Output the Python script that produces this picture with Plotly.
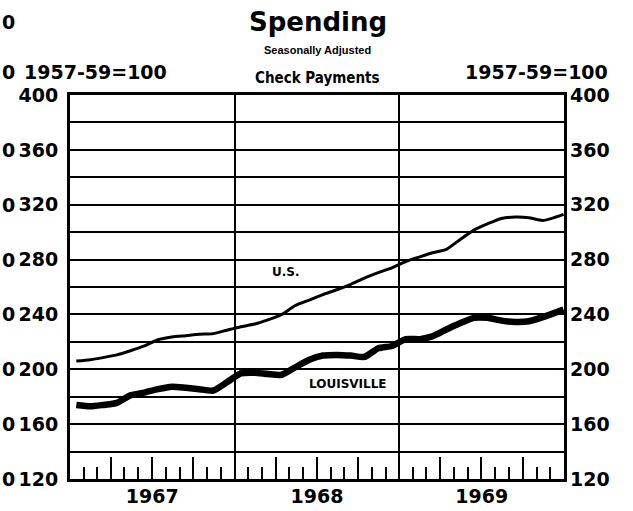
import plotly.graph_objects as go

# ---- data (monthly, seasonally adjusted, 1957-59=100) ----
months = [
    "1967-01-15", "1967-02-15", "1967-03-15", "1967-04-15", "1967-05-15", "1967-06-15",
    "1967-07-15", "1967-08-15", "1967-09-15", "1967-10-15", "1967-11-15", "1967-12-15",
    "1968-01-15", "1968-02-15", "1968-03-15", "1968-04-15", "1968-05-15", "1968-06-15",
    "1968-07-15", "1968-08-15", "1968-09-15", "1968-10-15", "1968-11-15", "1968-12-15",
    "1969-01-15", "1969-02-15", "1969-03-15", "1969-04-15", "1969-05-15", "1969-06-15",
    "1969-07-15", "1969-08-15", "1969-09-15", "1969-10-15", "1969-11-15", "1969-12-31",
]
us_values = [
    206, 207, 208.5, 210.5, 213.5, 217, 221.5, 223.5, 224.5, 225.5, 226, 228.5,
    231, 233, 236, 240, 246.5, 250.5, 254.5, 258, 262, 266.5, 270.5, 274,
    278.5, 282, 285, 287.5, 294.5, 301.5, 306, 310, 311, 310.5, 308.5, 313,
]
louisville_values = [
    174, 173, 174, 175.5, 181, 183, 185.5, 187.3, 186.5, 185.5, 184.5, 190.5,
    197, 197.5, 196.5, 196, 201.5, 207, 210, 210.5, 210, 209, 215.3, 217,
    222, 222, 224, 229, 233.5, 237.5, 237.5, 235.5, 234.5, 235, 238, 243.5,
]
y_grid_vals = [120, 140, 160, 180, 200, 220, 240, 260, 280, 300, 320, 340, 360, 380, 400]
y_grid_text = ["120", "", "160", "", "200", "", "240", "", "280", "", "320", "", "360", "", "400"]
y_right_vals = [120, 160, 200, 240, 280, 320, 360, 400]
x_range = ["1967-01-01", "1970-01-01"]
y_range = [120, 400]
stray_zero_rows = [360, 320, 280, 240, 200, 160, 120]

FONT = "DejaVu Sans"
bold = dict(family=FONT, size=19, color="black", weight="bold")

fig = go.Figure()
fig.add_trace(go.Scatter(x=months, y=us_values, mode="lines", name="U.S.",
                         line=dict(color="black", width=3, shape="spline", smoothing=0.6),
                         hoverinfo="x+y"))
fig.add_trace(go.Scatter(x=months, y=louisville_values, mode="lines", name="LOUISVILLE",
                         line=dict(color="black", width=6.5, shape="spline", smoothing=0.6),
                         hoverinfo="x+y"))
# invisible helper trace to create the secondary (year-label / right) axes
fig.add_trace(go.Scatter(x=months, y=us_values, xaxis="x2", yaxis="y2", mode="lines",
                         line=dict(color="rgba(0,0,0,0)", width=0), hoverinfo="skip",
                         showlegend=False))

fig.update_layout(
    width=633, height=511,
    margin=dict(l=70, r=69, t=95, b=32, autoexpand=False),
    plot_bgcolor="white", paper_bgcolor="white",
    showlegend=False,
    xaxis=dict(
        type="date", range=x_range, tick0="1967-01-01", dtick="M3",
        ticks="inside", ticklen=22, tickwidth=2, tickcolor="black",
        showticklabels=False, showgrid=False, zeroline=False, automargin=False,
        showline=True, linewidth=3, linecolor="black", mirror=True,
        minor=dict(tick0="1967-01-01", dtick="M1", ticks="inside", ticklen=12,
                   tickwidth=2, tickcolor="black", showgrid=False),
    ),
    xaxis2=dict(
        type="date", range=x_range, overlaying="x", side="bottom",
        tick0="1967-01-01", dtick="M12", ticklabelmode="period", tickformat="%Y",
        ticks="", showgrid=True, gridcolor="black", gridwidth=2, zeroline=False,
        tickfont=bold, ticklabelstandoff=4, automargin=False,
    ),
    yaxis=dict(
        range=y_range, tickmode="array", tickvals=y_grid_vals, ticktext=y_grid_text,
        ticks="", showgrid=True, gridcolor="black", gridwidth=2, zeroline=False,
        showline=True, linewidth=3, linecolor="black", mirror=True,
        tickfont=bold, ticklabelstandoff=5, automargin=False,
    ),
    yaxis2=dict(
        range=y_range, overlaying="y", side="right", tickmode="array",
        tickvals=y_right_vals, ticks="", showgrid=False, zeroline=False,
        tickfont=bold, ticklabelstandoff=5, automargin=False,
    ),
)

def note(text, x, y, font, xanchor="center", xref="paper", yref="paper"):
    return dict(text=text, x=x, y=y, xref=xref, yref=yref, xanchor=xanchor,
                yanchor="middle", showarrow=False, font=font)

annotations = [
    note("Spending", 0.502, 1.19, dict(family=FONT, size=26, color="black", weight="bold")),
    note("Seasonally Adjusted", 0.502, 1.117,
         dict(family="Liberation Sans", size=11, color="black", weight="bold")),
    note("Check Payments", 0.502, 1.044,
         dict(family="DejaVu Sans Condensed, Roboto Condensed, Roboto, sans-serif",
              size=15, color="black", weight="bold")),
    note("1957-59=100", -0.097, 1.06, bold, xanchor="left"),
    note("1957-59=100", 1.093, 1.06, bold, xanchor="right"),
    note("U.S.", "1968-04-25", 271, dict(family=FONT, size=12, color="black", weight="bold"),
         xref="x", yref="y"),
    note("LOUISVILLE", "1968-09-08", 189, dict(family=FONT, size=12, color="black", weight="bold"),
         xref="x", yref="y"),
    note("0", -0.1417, 1.19, bold, xanchor="left"),
    note("0", -0.1417, 1.06, bold, xanchor="left"),
]
for v in stray_zero_rows:
    annotations.append(note("0", -0.1417, v, bold, xanchor="left", yref="y"))
fig.update_layout(annotations=annotations)

fig.write_html("out.html", config={"displayModeBar": False},
               post_script="document.body.style.margin='0';")
